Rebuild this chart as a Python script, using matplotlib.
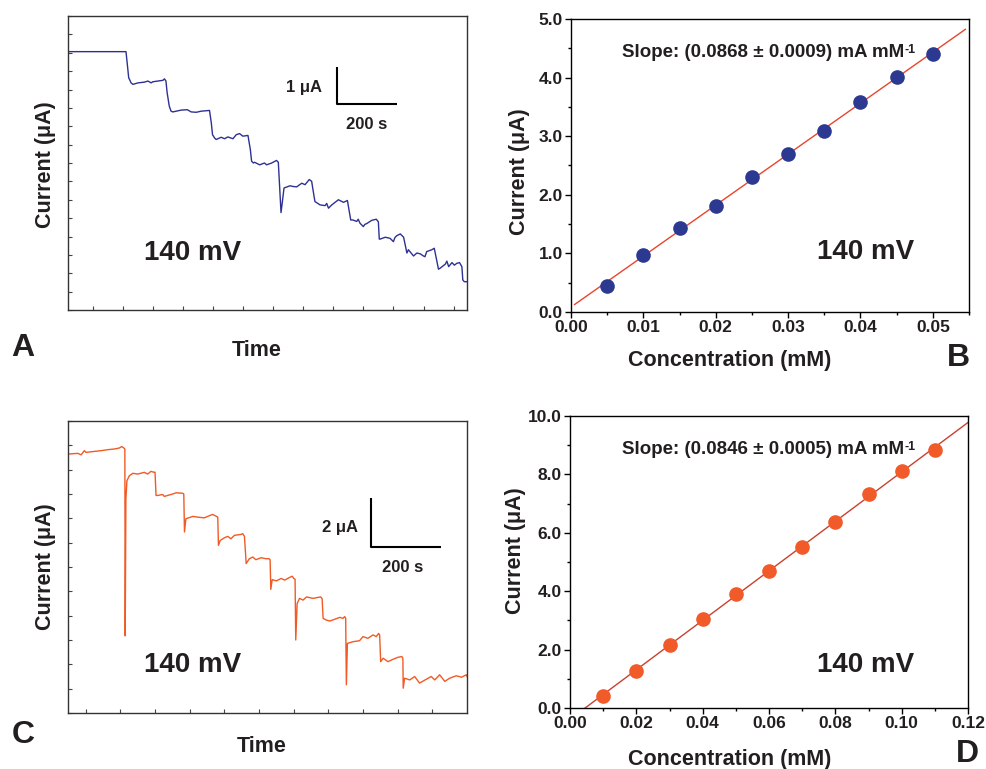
import numpy as np
import matplotlib
matplotlib.use("Agg")
import matplotlib.pyplot as plt
from matplotlib.ticker import MultipleLocator, FixedLocator, FormatStrFormatter

plt.rcParams['font.family'] = ['Liberation Sans', 'DejaVu Sans']
plt.rcParams['font.weight'] = 'bold'

# ---------------- data ----------------
# Panel A: amperometric trace (time in s, current in uA)
trace_a_t = [0, 193, 198, 202, 210, 216, 233, 254, 266, 277, 282, 299, 316, 321, 326, 330, 337, 343, 349,
             377, 397, 410, 427, 443, 471, 477, 481, 488, 493, 510, 521, 532, 549, 560, 571, 582, 599,
             607, 611, 617, 621, 638, 654, 661, 678, 694, 700, 709, 713, 719, 739, 750, 761, 778, 789,
             803, 811, 819, 822, 839, 856, 861, 867, 878, 900, 917, 930, 937, 941, 948, 961, 966, 972, 983, 988, 994,
             1011, 1026, 1033, 1036, 1039, 1056, 1072, 1083, 1088, 1094, 1106, 1117, 1128, 1133, 1150, 1161, 1172,
             1183, 1188, 1194, 1211, 1219, 1226, 1233, 1239, 1256, 1261, 1267, 1278, 1286, 1294, 1303, 1311, 1314, 1319, 1328]
trace_a_i = [7.03, 7.03, 6.64, 6.32, 6.18, 6.14, 6.18, 6.20, 6.23, 6.18, 6.21, 6.23, 6.25, 6.29, 6.23, 5.91, 5.55, 5.41, 5.39,
             5.44, 5.45, 5.39, 5.38, 5.41, 5.43, 5.09, 4.77, 4.68, 4.64, 4.70, 4.66, 4.71, 4.66, 4.77, 4.80, 4.73, 4.75,
             4.36, 4.05, 4.00, 4.02, 3.95, 4.00, 3.95, 4.00, 4.07, 4.02, 2.65, 2.91, 3.32, 3.38, 3.36, 3.35, 3.45, 3.41,
             3.55, 3.50, 3.09, 2.95, 2.86, 2.84, 2.90, 2.77, 2.86, 3.00, 2.93, 2.98, 2.64, 2.45, 2.45, 2.41, 2.47, 2.36, 2.27, 2.33, 2.35,
             2.44, 2.47, 2.40, 1.93, 1.93, 1.98, 1.95, 1.86, 1.97, 2.02, 2.07, 1.98, 1.55, 1.64, 1.47, 1.55, 1.53,
             1.47, 1.45, 1.59, 1.64, 1.68, 1.40, 1.11, 1.14, 1.25, 1.33, 1.18, 1.29, 1.22, 1.27, 1.29, 1.18, 0.82, 0.77, 0.77]

# Panel C: amperometric trace (time in s, current in uA)
trace_c_t = [0, 28, 38, 47, 52, 76, 95, 114, 134, 148, 155, 161, 164, 165, 167, 170, 177, 187, 201, 220, 230,
             239, 249, 251, 254, 259, 273, 278, 292, 302, 312, 331, 334, 336, 340, 360, 374, 393, 403, 417, 427,
             432, 434, 439, 451, 461, 470, 480, 499, 504, 509, 514, 523, 533, 542, 557, 571, 580, 583, 585, 589,
             601, 615, 625, 639, 647, 651, 655, 657, 661, 668, 678, 688, 707, 721, 729, 733, 736, 745, 755, 769,
             784, 793, 798, 801, 803, 806, 822, 841, 851, 865, 880, 889, 896, 899, 902, 909, 923, 938, 952, 963,
             966, 967, 971, 986, 1000, 1014, 1034, 1048, 1058, 1072, 1087, 1101, 1120, 1135, 1149, 1151]
trace_c_i = [10.64, 10.67, 10.61, 10.78, 10.71, 10.75, 10.78, 10.82, 10.85, 10.89, 10.95, 10.89, 10.85, 3.17, 8.80, 9.55, 9.75, 9.85, 9.82, 9.89, 9.82,
             9.93, 9.89, 9.90, 8.94, 8.94, 8.98, 8.90, 8.96, 9.00, 9.05, 9.03, 9.00, 7.44, 7.98, 8.08, 8.05, 8.02, 8.08, 8.16, 8.09,
             8.05, 6.89, 7.09, 7.20, 7.26, 7.16, 7.30, 7.34, 7.37, 7.26, 6.14, 6.34, 6.41, 6.30, 6.38, 6.34, 6.34, 6.30, 5.08, 5.48,
             5.43, 5.53, 5.46, 5.57, 5.62, 5.53, 5.50, 3.00, 4.50, 4.71, 4.64, 4.77, 4.71, 4.75, 4.77, 4.70, 3.89, 3.82, 3.78, 3.85,
             3.93, 3.89, 3.96, 3.90, 1.16, 2.86, 2.93, 2.97, 3.14, 3.07, 3.21, 3.14, 3.27, 3.20, 2.11, 2.25, 2.11, 2.21, 2.29, 2.32,
             2.25, 1.02, 1.43, 1.36, 1.50, 1.23, 1.39, 1.50, 1.36, 1.57, 1.30, 1.43, 1.53, 1.47, 1.57, 1.50]

# Panel B: calibration
conc_b = [0.005, 0.010, 0.015, 0.020, 0.025, 0.030, 0.035, 0.040, 0.045, 0.050]
curr_b = [0.45, 0.98, 1.43, 1.81, 2.31, 2.70, 3.09, 3.58, 4.01, 4.40]
# Panel D: calibration
conc_d = [0.01, 0.02, 0.03, 0.04, 0.05, 0.06, 0.07, 0.08, 0.09, 0.10, 0.11]
curr_d = [0.40, 1.27, 2.17, 3.05, 3.92, 4.70, 5.53, 6.37, 7.32, 8.10, 8.83]

slope_b_text = 'Slope: (0.0868 ± 0.0009) mA mM'
slope_d_text = 'Slope: (0.0846 ± 0.0005) mA mM'
slope_sup = '-1'
potential_text = '140 mV'

# ---------------- figure ----------------
W, H = 986, 769
fig = plt.figure(figsize=(W / 100, H / 100), dpi=100)
fig.patch.set_facecolor('white')

def rect(left, top, right, bottom):
    return [left / W, 1 - bottom / H, (right - left) / W, (bottom - top) / H]

def px(x, y):
    return (x / W, 1 - y / H)

TXT = '#231f20'
BLUE_TRACE = '#2e3192'
ORANGE_TRACE = '#f15a24'

# ---- Panel A ----
axA = fig.add_axes(rect(68, 16, 467, 310))
axA.plot(trace_a_t, trace_a_i, color=BLUE_TRACE, lw=1.0)
axA.set_xlim(0, 1328)
axA.set_ylim(0, 8.0)
axA.xaxis.set_major_locator(FixedLocator(np.arange(83.3, 1328, 100)))
axA.yaxis.set_major_locator(MultipleLocator(0.5))
axA.tick_params(direction='in', length=3, width=0.8, colors='#444444',
                labelbottom=False, labelleft=False)
for s in axA.spines.values():
    s.set_color('#333333'); s.set_linewidth(1.0)
axA.plot([894, 894, 1094], [6.6, 5.6, 5.6], color='black', lw=1.5, solid_capstyle='butt')
axA.text(844, 6.05, '1 μA', ha='right', va='center', fontsize=12, color=TXT, fontweight='bold')
axA.text(994, 5.05, '200 s', ha='center', va='center', fontsize=12, color=TXT, fontweight='bold')
axA.text(0.311, 0.194, potential_text, transform=axA.transAxes, ha='center', va='center',
         fontsize=20, color=TXT, fontweight='bold')

# ---- Panel C ----
axC = fig.add_axes(rect(68, 421, 467, 713))
axC.plot(trace_c_t, trace_c_i, color=ORANGE_TRACE, lw=1.0)
axC.set_xlim(0, 1151)
axC.set_ylim(0, 12)
axC.xaxis.set_major_locator(FixedLocator(np.arange(51, 1151, 100)))
axC.yaxis.set_major_locator(MultipleLocator(1))
axC.tick_params(direction='in', length=3, width=0.8, colors='#444444',
                labelbottom=False, labelleft=False)
for s in axC.spines.values():
    s.set_color('#333333'); s.set_linewidth(1.0)
axC.plot([875, 875, 1075], [8.82, 6.82, 6.82], color='black', lw=1.5, solid_capstyle='butt')
axC.text(838, 7.64, '2 μA', ha='right', va='center', fontsize=12, color=TXT, fontweight='bold')
axC.text(964, 6.0, '200 s', ha='center', va='center', fontsize=12, color=TXT, fontweight='bold')
axC.text(0.311, 0.164, potential_text, transform=axC.transAxes, ha='center', va='center',
         fontsize=20, color=TXT, fontweight='bold')

def slope_label(ax, x, y, text):
    t = ax.text(x, y, text, transform=ax.transAxes, ha='left', va='center',
                fontsize=13.5, color=TXT, fontweight='bold')
    ax.annotate(slope_sup, xy=(1, 1), xycoords=t, xytext=(0.5, 0.5),
                textcoords='offset points', ha='left', va='top',
                fontsize=9, color=TXT, fontweight='bold')

# ---- Panel B ----
axB = fig.add_axes(rect(571, 19, 969, 312))
fitb = np.polyfit(conc_b, curr_b, 1)
xb = np.array([0.0005, 0.0545])
axB.plot(xb, np.polyval(fitb, xb), color='#e8452c', lw=1.0, zorder=2)
axB.plot(conc_b, curr_b, 'o', color='#2b3990', markersize=9.5, zorder=3)
axB.set_xlim(0, 0.055)
axB.set_ylim(0, 5.0)
axB.xaxis.set_major_locator(MultipleLocator(0.01))
axB.xaxis.set_minor_locator(MultipleLocator(0.005))
axB.yaxis.set_major_locator(MultipleLocator(1.0))
axB.yaxis.set_minor_locator(MultipleLocator(0.5))
axB.xaxis.set_major_formatter(FormatStrFormatter('%.2f'))
axB.yaxis.set_major_formatter(FormatStrFormatter('%.1f'))
slope_label(axB, 0.128, 0.884, slope_b_text)
axB.text(0.739, 0.205, potential_text, transform=axB.transAxes, ha='center', va='center',
         fontsize=20, color=TXT, fontweight='bold')

# ---- Panel D ----
axD = fig.add_axes(rect(570, 416, 968, 708))
fitd = np.polyfit(conc_d, curr_d, 1)
xd = np.array([0.0, 0.12])
axD.plot(xd, np.polyval(fitd, xd), color='#c8412f', lw=1.0, zorder=2)
axD.plot(conc_d, curr_d, 'o', color='#f15a29', markersize=9.5, zorder=3)
axD.set_xlim(0, 0.12)
axD.set_ylim(0, 10.0)
axD.xaxis.set_major_locator(MultipleLocator(0.02))
axD.xaxis.set_minor_locator(MultipleLocator(0.01))
axD.yaxis.set_major_locator(MultipleLocator(2.0))
axD.yaxis.set_minor_locator(MultipleLocator(1.0))
axD.xaxis.set_major_formatter(FormatStrFormatter('%.2f'))
axD.yaxis.set_major_formatter(FormatStrFormatter('%.1f'))
slope_label(axD, 0.131, 0.884, slope_d_text)
axD.text(0.742, 0.147, potential_text, transform=axD.transAxes, ha='center', va='center',
         fontsize=20, color=TXT, fontweight='bold')

for ax in (axB, axD):
    ax.tick_params(which='major', direction='out', length=4, width=1.0, colors='black',
                   labelsize=12.5, labelcolor=TXT, pad=2, top=False, right=False)
    ax.tick_params(which='minor', direction='out', length=2.5, width=1.0, colors='black',
                   top=False, right=False)
    for lab in ax.get_xticklabels() + ax.get_yticklabels():
        lab.set_fontweight('bold')
    for s in ax.spines.values():
        s.set_color('black'); s.set_linewidth(1.0)

# ---- labels ----
lab_kw = dict(fontsize=15.5, color=TXT, fontweight='bold', ha='center', va='center')
fig.text(*px(45, 165), 'Current (μA)', rotation=90, **lab_kw)
fig.text(*px(45, 567), 'Current (μA)', rotation=90, **lab_kw)
fig.text(*px(520, 172), 'Current (μA)', rotation=90, **lab_kw)
fig.text(*px(515, 551), 'Current (μA)', rotation=90, **lab_kw)
fig.text(*px(257, 351), 'Time', **lab_kw)
fig.text(*px(262, 747), 'Time', **lab_kw)
fig.text(*px(730, 360), 'Concentration (mM)', **lab_kw)
fig.text(*px(730, 760), 'Concentration (mM)', **lab_kw)

letter_kw = dict(fontsize=23, color=TXT, fontweight='bold', ha='center', va='center')
fig.text(*px(23, 348), 'A', **letter_kw)
fig.text(*px(23, 735), 'C', **letter_kw)
fig.text(*px(958, 358), 'B', **letter_kw)
fig.text(*px(967, 754), 'D', **letter_kw)

fig.savefig('out.png', dpi=100, facecolor='white')
